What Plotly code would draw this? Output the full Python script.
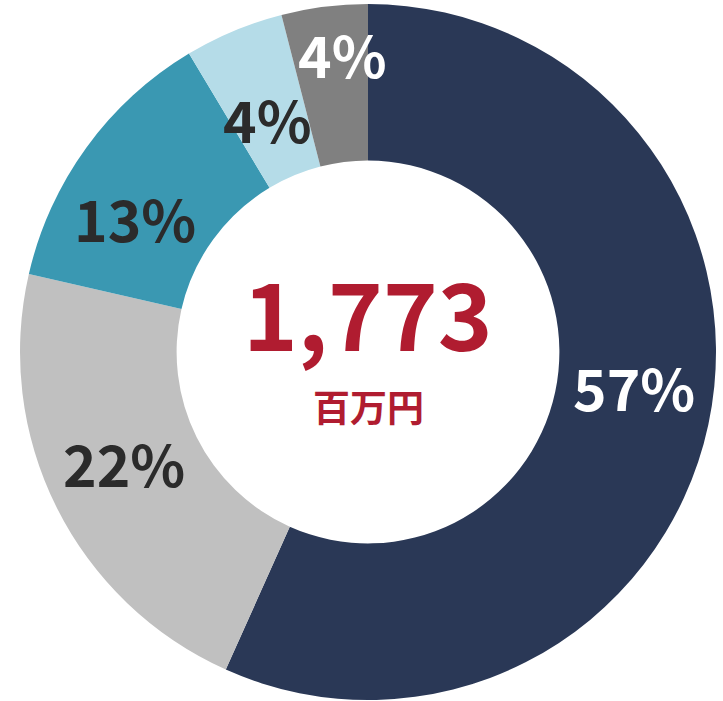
import math
import plotly.graph_objects as go

categories = ["A", "B", "C", "D", "E"]
values = [56.7, 21.9, 12.8, 4.6, 4.0]
labels_text = ["57%", "22%", "13%", "4%", "4%"]
colors = ["#2a3856", "#c0c0c0", "#3a98b2", "#b5dce8", "#808080"]
text_colors = ["#ffffff", "#2b2b2b", "#2b2b2b", "#2b2b2b", "#ffffff"]
total_value = "1,773"
total_unit = "百万円"

# label placement style: radial fraction of outer radius and angular nudge (deg)
label_r = [0.772, 0.778, 0.765, 0.715, 0.844]
label_dang = [-3.6, 1.0, -7.0, -1.2, 2.2]

fig = go.Figure(go.Pie(
    labels=categories,
    values=values,
    textinfo="none",
    hole=0.55,
    sort=False,
    direction="clockwise",
    rotation=0,
    marker=dict(colors=colors, line=dict(width=0)),
    showlegend=False,
    hoverinfo="label+percent",
    domain=dict(x=[0, 1], y=[0, 1]),
))

total = sum(values)
cum = 0.0
for v, t, c, rf, da in zip(values, labels_text, text_colors, label_r, label_dang):
    mid = (cum + v / 2) / total * 360 + da
    cum += v
    th = math.radians(mid)
    fig.add_annotation(
        x=0.5 + 0.5 * rf * math.sin(th), y=0.5 + 0.5 * rf * math.cos(th),
        xref="paper", yref="paper", text=t, showarrow=False,
        xanchor="center", yanchor="middle", yshift=6,
        font=dict(family="Noto Sans CJK JP", size=57, color=c, weight="bold"),
    )

fig.add_annotation(x=0.5, y=0.5, xref="paper", yref="paper", text=total_value,
                   showarrow=False, yshift=42,
                   font=dict(family="Noto Sans CJK JP", size=93, color="#b01c30", weight="bold"))
fig.add_annotation(x=0.5, y=0.5, xref="paper", yref="paper", text=total_unit,
                   showarrow=False, yshift=-54,
                   font=dict(family="Noto Sans CJK JP", size=37, color="#b01c30", weight="bold"))

fig.update_layout(
    width=723, height=701,
    margin=dict(l=20, r=7, t=4, b=1),
    paper_bgcolor="white", plot_bgcolor="white",
)
fig.write_html("out.html", config={"displayModeBar": False},
               post_script="document.body.style.margin='0';")
